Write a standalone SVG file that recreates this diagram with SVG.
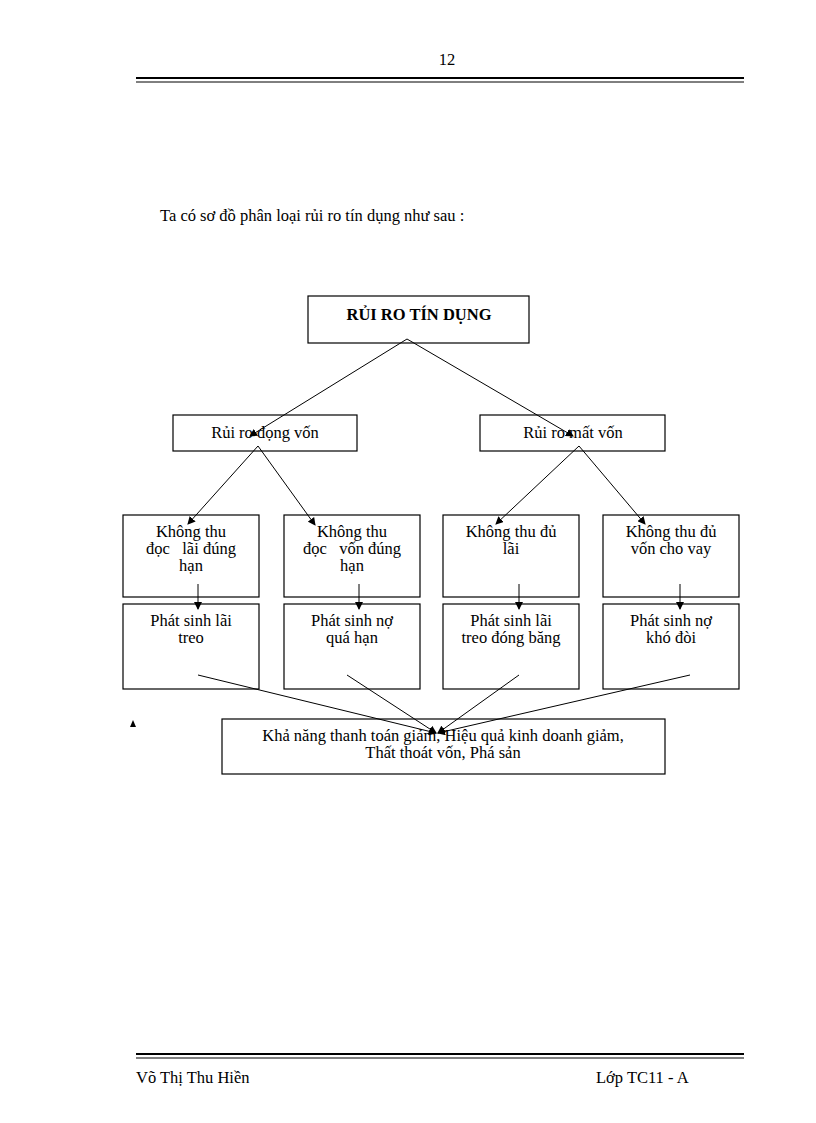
<svg xmlns="http://www.w3.org/2000/svg" width="816" height="1123" viewBox="0 0 816 1123">
<defs><marker id="a" markerWidth="8" markerHeight="8" refX="7" refY="4" orient="auto" markerUnits="userSpaceOnUse"><path d="M0,0 L8,4 L0,8 z" fill="#000"/></marker></defs>
<style>text{font-family:"Liberation Serif",serif;font-size:16.5px;fill:#000;white-space:pre}.b rect{fill:#fff;stroke:#000;stroke-width:1.2}.c line{stroke:#000;stroke-width:1;marker-end:url(#a)}</style>
<rect width="816" height="1123" fill="#fff"/>
<text x="447" y="65" text-anchor="middle">12</text>
<line x1="136" y1="78" x2="744" y2="78" stroke="#000" stroke-width="2"/><line x1="136" y1="82" x2="744" y2="82" stroke="#000" stroke-width="1"/>
<text x="160" y="221">Ta có sơ đồ phân loại rủi ro tín dụng như sau :</text>
<g class="b">
<g id="n0"><rect x="308" y="296" width="221" height="47"/><text x="419" y="320" text-anchor="middle" font-weight="bold" font-size="17">RỦI RO TÍN DỤNG</text></g>
<g id="n1"><rect x="173" y="415" width="184" height="36"/><text x="265" y="438" text-anchor="middle">Rủi ro đọng vốn</text></g>
<g id="n2"><rect x="480" y="415" width="185" height="36"/><text x="573" y="438" text-anchor="middle">Rủi ro mất vốn</text></g>
<g id="n3"><rect x="123" y="515" width="136" height="82"/><text text-anchor="middle" xml:space="preserve"><tspan x="191" y="537">Không thu</tspan><tspan x="191" y="554">đọc   lãi đúng</tspan><tspan x="191" y="571">hạn</tspan></text></g>
<g id="n4"><rect x="284" y="515" width="136" height="82"/><text text-anchor="middle" xml:space="preserve"><tspan x="352" y="537">Không thu</tspan><tspan x="352" y="554">đọc   vốn đúng</tspan><tspan x="352" y="571">hạn</tspan></text></g>
<g id="n5"><rect x="443" y="515" width="136" height="82"/><text text-anchor="middle"><tspan x="511" y="537">Không thu đủ</tspan><tspan x="511" y="554">lãi</tspan></text></g>
<g id="n6"><rect x="603" y="515" width="136" height="82"/><text text-anchor="middle"><tspan x="671" y="537">Không thu đủ</tspan><tspan x="671" y="554">vốn cho vay</tspan></text></g>
<g id="n7"><rect x="123" y="604" width="136" height="85"/><text text-anchor="middle"><tspan x="191" y="626">Phát sinh lãi</tspan><tspan x="191" y="643">treo</tspan></text></g>
<g id="n8"><rect x="284" y="604" width="136" height="85"/><text text-anchor="middle"><tspan x="352" y="626">Phát sinh nợ</tspan><tspan x="352" y="643">quá hạn</tspan></text></g>
<g id="n9"><rect x="443" y="604" width="136" height="85"/><text text-anchor="middle"><tspan x="511" y="626">Phát sinh lãi</tspan><tspan x="511" y="643">treo đóng băng</tspan></text></g>
<g id="n10"><rect x="603" y="604" width="136" height="85"/><text text-anchor="middle"><tspan x="671" y="626">Phát sinh nợ</tspan><tspan x="671" y="643">khó đòi</tspan></text></g>
<g id="n11"><rect x="222" y="719" width="443" height="55"/><text text-anchor="middle"><tspan x="443" y="741">Khả năng thanh toán giảm, Hiệu quả kinh doanh giảm,</tspan><tspan x="443" y="758">Thất thoát vốn, Phá sản</tspan></text></g>
</g>
<g class="c">
<line x1="407" y1="339" x2="250" y2="436"/><line x1="407" y1="339" x2="573" y2="436"/>
<line x1="258" y1="446" x2="188" y2="524"/><line x1="258" y1="446" x2="315" y2="525"/>
<line x1="579" y1="446" x2="496" y2="524"/><line x1="579" y1="446" x2="645" y2="524"/>
<line x1="198" y1="584" x2="198" y2="609"/><line x1="359" y1="584" x2="359" y2="609"/>
<line x1="519" y1="584" x2="519" y2="609"/><line x1="680" y1="584" x2="680" y2="609"/>
<line x1="198" y1="675" x2="436" y2="733"/><line x1="347" y1="675" x2="436" y2="733"/>
<line x1="519" y1="675" x2="438" y2="733"/><line x1="690" y1="675" x2="438" y2="733"/>
</g>
<path d="M130,727 L133,720 L136,727 z" fill="#000"/>
<line x1="136" y1="1054" x2="744" y2="1054" stroke="#000" stroke-width="2"/><line x1="136" y1="1058" x2="744" y2="1058" stroke="#000" stroke-width="1"/>
<text x="136" y="1083">Võ Thị Thu Hiền</text>
<text x="596" y="1083">Lớp TC11 - A</text>
</svg>
